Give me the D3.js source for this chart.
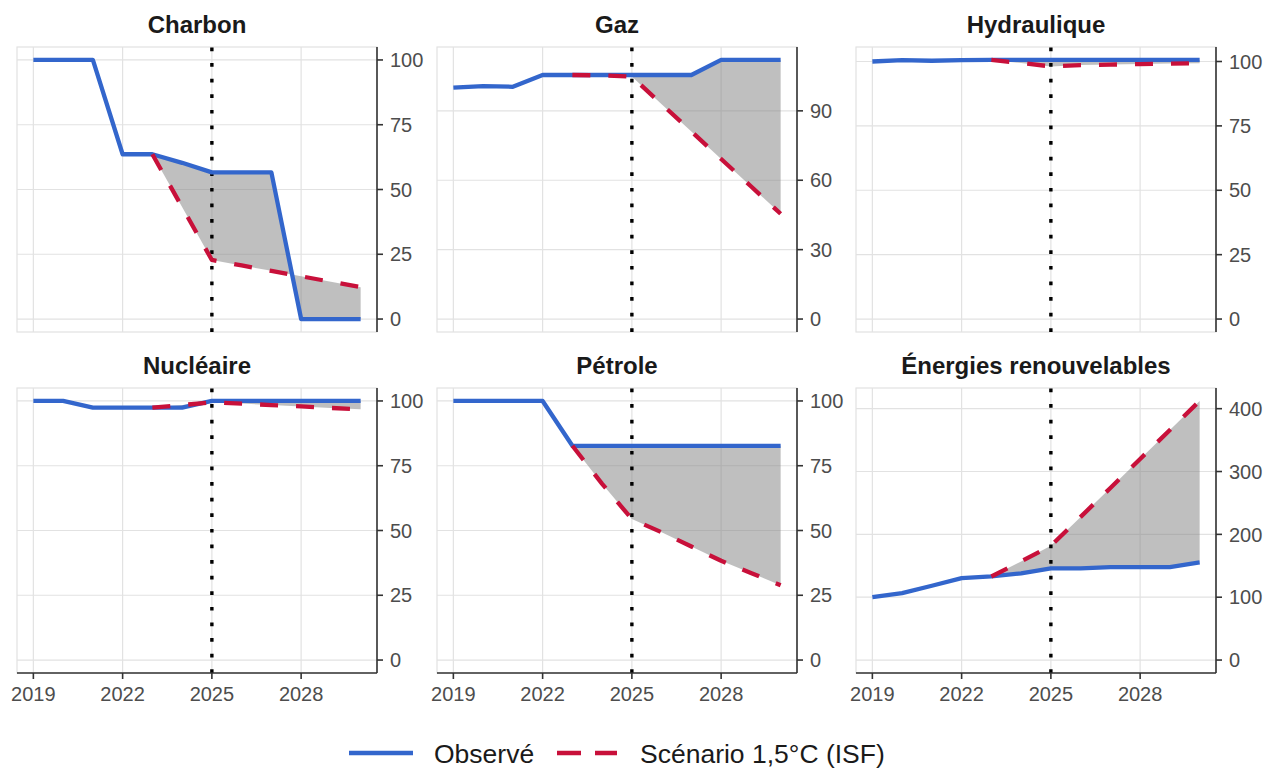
<!DOCTYPE html>
<html>
<head>
<meta charset="utf-8">
<script src="https://cdn.jsdelivr.net/npm/d3@7"></script>
<style>
  html, body { margin: 0; padding: 0; background: #fff; }
  svg { display: block; font-family: "Liberation Sans", Arial, Helvetica, sans-serif; }
</style>
</head>
<body>
<svg id="chart" width="1266" height="769"></svg>
<script>
// ---------------- DATA ----------------
const years = [2019, 2020, 2021, 2022, 2023, 2024, 2025, 2026, 2027, 2028, 2029, 2030];
const scenarioYears = [2023, 2024, 2025, 2026, 2027, 2028, 2029, 2030];
const xTicks = [2019, 2022, 2025, 2028];
const refYear = 2025;

const panelTitles = ["Charbon", "Gaz", "Hydraulique", "Nucléaire", "Pétrole", "Énergies renouvelables"];

const charbonObserved = [100, 100, 100, 63.6, 63.6, 60.3, 56.6, 56.6, 56.6, 0, 0, 0];
const charbonScenario = [63.6, 43.2, 22.8, 20.7, 18.6, 16.5, 14.4, 12.3];
const charbonTicks = [0, 25, 50, 75, 100];

const gazObserved = [100, 100.7, 100.4, 105.5, 105.5, 105.5, 105.5, 105.5, 105.5, 112, 112, 112];
const gazScenario = [105.5, 105.3, 104.8, 92.9, 81.1, 69.2, 57.4, 45.5];
const gazTicks = [0, 30, 60, 90];

const hydrauliqueObserved = [100, 100.5, 100.3, 100.5, 100.6, 100.6, 100.6, 100.6, 100.6, 100.6, 100.6, 100.6];
const hydrauliqueScenario = [100.6, 99.4, 98.1, 98.6, 98.8, 99.0, 99.2, 99.3];
const hydrauliqueTicks = [0, 25, 50, 75, 100];

const nucleaireObserved = [100, 100, 97.4, 97.4, 97.4, 97.4, 100, 100, 100, 100, 100, 100];
const nucleaireScenario = [97.4, 98.4, 99.5, 99.0, 98.4, 97.9, 97.3, 96.8];
const nucleaireTicks = [0, 25, 50, 75, 100];

const petroleObserved = [100, 100, 100, 100, 82.7, 82.7, 82.7, 82.7, 82.7, 82.7, 82.7, 82.7];
const petroleScenario = [82.7, 68, 54.4, 49.3, 43.8, 38.3, 33.6, 28.9];
const petroleTicks = [0, 25, 50, 75, 100];

const renouvObserved = [100, 106.5, 118.2, 130.4, 133, 138, 145.8, 145.8, 147.9, 147.9, 147.9, 155.3];
const renouvScenario = [133, 157, 181.7, 227.8, 273.9, 320, 366.2, 412.3];
const renouvTicks = [0, 100, 200, 300, 400];

const legendLabels = ["Observé", "Scénario 1,5°C (ISF)"];

// ---------------- STYLE / LAYOUT ----------------
const BLUE = "#3366CC";
const RED = "#C8103A";
const GRID = "#e2e2e2";
const AXIS = "#333333";
const TICKTXT = "#4d4d4d";

const colLeft = [17, 437, 856];
const rowTop = [47, 388];
const PW = 360, PH = 285;

const panels = [
  { title: panelTitles[0], obs: charbonObserved, scen: charbonScenario, ticks: charbonTicks },
  { title: panelTitles[1], obs: gazObserved, scen: gazScenario, ticks: gazTicks },
  { title: panelTitles[2], obs: hydrauliqueObserved, scen: hydrauliqueScenario, ticks: hydrauliqueTicks },
  { title: panelTitles[3], obs: nucleaireObserved, scen: nucleaireScenario, ticks: nucleaireTicks },
  { title: panelTitles[4], obs: petroleObserved, scen: petroleScenario, ticks: petroleTicks },
  { title: panelTitles[5], obs: renouvObserved, scen: renouvScenario, ticks: renouvTicks }
];

const svg = d3.select("#chart");
svg.append("rect").attr("width", 1266).attr("height", 769).attr("fill", "#fff");

panels.forEach((p, i) => {
  const col = i % 3, row = Math.floor(i / 3);
  const left = colLeft[col], top = rowTop[row];
  const right = left + PW, bottom = top + PH;

  const xExt = d3.extent(years);
  const xPad = (xExt[1] - xExt[0]) * 0.05;
  const x = d3.scaleLinear().domain([xExt[0] - xPad, xExt[1] + xPad]).range([left, right]);

  const yMax = d3.max([...p.obs, ...p.scen]);
  const yMin = Math.min(0, d3.min([...p.obs, ...p.scen]));
  const yPad = (yMax - yMin) * 0.05;
  const y = d3.scaleLinear().domain([yMin - yPad, yMax + yPad]).range([bottom, top]);

  const g = svg.append("g");

  // panel border
  g.append("rect").attr("x", left).attr("y", top).attr("width", PW).attr("height", PH)
    .attr("fill", "none").attr("stroke", GRID).attr("stroke-width", 1.2);

  // grid
  g.selectAll(".hg").data(p.ticks).join("line")
    .attr("x1", left).attr("x2", right)
    .attr("y1", d => y(d)).attr("y2", d => y(d))
    .attr("stroke", GRID).attr("stroke-width", 1.2);
  g.selectAll(".vg").data(xTicks).join("line")
    .attr("x1", d => x(d)).attr("x2", d => x(d))
    .attr("y1", top).attr("y2", bottom)
    .attr("stroke", GRID).attr("stroke-width", 1.2);

  // ribbon between observed and scenario
  const ribbonData = scenarioYears.map((yr, k) => ({
    yr, scen: p.scen[k], obs: p.obs[years.indexOf(yr)]
  }));
  g.append("path").datum(ribbonData)
    .attr("d", d3.area().x(d => x(d.yr)).y0(d => y(d.scen)).y1(d => y(d.obs)))
    .attr("fill", "#808080").attr("fill-opacity", 0.5);

  // reference vertical dotted line (drawn bottom to top)
  g.append("line")
    .attr("x1", x(refYear)).attr("x2", x(refYear))
    .attr("y1", bottom).attr("y2", top)
    .attr("stroke", "#000").attr("stroke-width", 3.4)
    .attr("stroke-dasharray", "3.7 11.9");

  // observed line
  const lineObs = d3.line().x((d, k) => x(years[k])).y(d => y(d));
  g.append("path").datum(p.obs).attr("d", lineObs)
    .attr("fill", "none").attr("stroke", BLUE).attr("stroke-width", 4.3)
    .attr("stroke-linejoin", "round");

  // scenario line
  const lineScen = d3.line().x((d, k) => x(scenarioYears[k])).y(d => y(d));
  g.append("path").datum(p.scen).attr("d", lineScen)
    .attr("fill", "none").attr("stroke", RED).attr("stroke-width", 4.3)
    .attr("stroke-dasharray", "18 18").attr("stroke-linejoin", "round");

  // right axis
  g.append("line").attr("x1", right).attr("x2", right).attr("y1", top).attr("y2", bottom)
    .attr("stroke", AXIS).attr("stroke-width", 1.6);
  g.selectAll(".yt").data(p.ticks).join("line")
    .attr("x1", right).attr("x2", right + 6)
    .attr("y1", d => y(d)).attr("y2", d => y(d))
    .attr("stroke", AXIS).attr("stroke-width", 1.6);
  g.selectAll(".yl").data(p.ticks).join("text")
    .attr("x", right + 13).attr("y", d => y(d))
    .attr("dy", "0.36em")
    .attr("fill", TICKTXT).attr("font-size", 20)
    .text(d => d);

  // bottom axis (only bottom row)
  if (row === 1) {
    g.append("line").attr("x1", left).attr("x2", right).attr("y1", bottom).attr("y2", bottom)
      .attr("stroke", AXIS).attr("stroke-width", 1.6);
    g.selectAll(".xt").data(xTicks).join("line")
      .attr("x1", d => x(d)).attr("x2", d => x(d))
      .attr("y1", bottom).attr("y2", bottom + 6)
      .attr("stroke", AXIS).attr("stroke-width", 1.6);
    g.selectAll(".xl").data(xTicks).join("text")
      .attr("x", d => x(d)).attr("y", bottom + 28)
      .attr("text-anchor", "middle")
      .attr("fill", TICKTXT).attr("font-size", 20)
      .text(d => d);
  }

  // title
  g.append("text")
    .attr("x", (left + right) / 2).attr("y", top - 14)
    .attr("text-anchor", "middle")
    .attr("font-weight", "bold").attr("font-size", 24)
    .attr("fill", "#1a1a1a")
    .text(p.title);
});

// ---------------- LEGEND ----------------
const lg = svg.append("g");
const legY = 753;
lg.append("line").attr("x1", 349).attr("x2", 413).attr("y1", legY).attr("y2", legY)
  .attr("stroke", BLUE).attr("stroke-width", 4.5);
lg.append("text").attr("x", 434).attr("y", legY).attr("dy", "0.36em")
  .attr("font-size", 26.5).attr("fill", "#1a1a1a").text(legendLabels[0]);
lg.append("line").attr("x1", 557).attr("x2", 617).attr("y1", legY).attr("y2", legY)
  .attr("stroke", RED).attr("stroke-width", 4.5).attr("stroke-dasharray", "24 14");
lg.append("text").attr("x", 640).attr("y", legY).attr("dy", "0.36em")
  .attr("font-size", 26.5).attr("fill", "#1a1a1a").text(legendLabels[1]);
</script>
</body>
</html>
